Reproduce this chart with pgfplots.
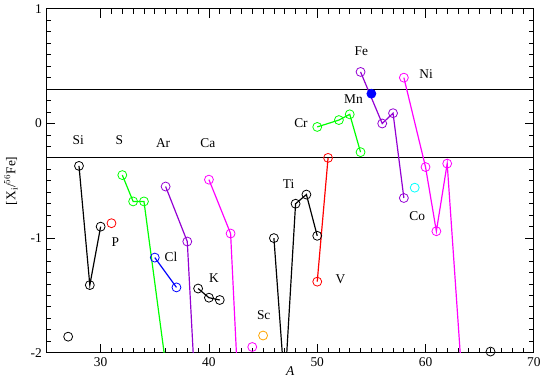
\documentclass[border=0pt]{standalone}
\usepackage{fontspec}
\setmainfont{Liberation Serif}
\usepackage{pgfplots}
\pgfplotsset{compat=1.18}
\usepackage{pgfplotstable}

\definecolor{grgreen}{RGB}{0,255,0}
\definecolor{grviolet}{RGB}{148,0,211}
\definecolor{grmagenta}{RGB}{255,0,255}
\definecolor{grorange}{RGB}{255,165,0}
\definecolor{grcyan}{RGB}{0,255,255}
\definecolor{grred}{RGB}{255,0,0}
\definecolor{grblue}{RGB}{0,0,255}

% isotope chains, A and [X_i/56Fe]
\pgfplotstableread{
A y
28 -0.37
29 -1.41
30 -0.90
}\si
\pgfplotstableread{
A y
32 -0.45
33 -0.68
34 -0.68
36 -2.10
}\sul
\pgfplotstableread{
A y
35 -1.17
37 -1.43
}\cl
\pgfplotstableread{
A y
36 -0.55
38 -1.03
40 -4.60
}\ar
\pgfplotstableread{
A y
40 -0.49
42 -0.96
43 -2.90
}\ca
\pgfplotstableread{
A y
39 -1.44
40 -1.52
41 -1.54
}\kk
\pgfplotstableread{
A y
46 -1.00
47 -2.30
48 -0.70
49 -0.62
50 -0.98
}\ti
\pgfplotstableread{
A y
50 -1.38
51 -0.30
}\vv
\pgfplotstableread{
A y
50 -0.03
52 0.03
53 0.08
54 -0.25
}\cr
\pgfplotstableread{
A y
54 0.45
56 0.00
57 0.09
58 -0.65
}\fe
\pgfplotstableread{
A y
58 0.40
60 -0.38
61 -0.94
62 -0.35
64 -3.10
}\ni

\newcommand{\chain}[2]{%
  \addplot[#1, line width=1.2pt, mark=none] table[x=A, y=y] {#2};
  \addplot[#1, only marks, mark=o, mark size=4.5pt, line width=0.8pt,
    restrict y to domain=-2.05:1.05] table[x=A, y=y] {#2};
}

\begin{document}
\fontsize{13.5}{16}\selectfont
\begin{tikzpicture}
\begin{axis}[
  width=489bp, height=345bp, scale only axis,
  xmin=25, xmax=70, ymin=-2, ymax=1,
  xtick={30,40,50,60,70}, ytick={-2,-1,0,1},
  minor x tick num=9, minor y tick num=9,
  tick align=inside, major tick length=9bp, minor tick length=5bp,
  tick style={black, line width=0.8pt},
  axis line style={line width=0.8pt},
  xlabel={\textit{A}}, ylabel={[X$_{\mathrm{i}}$/$^{56}$Fe]},
  xlabel style={yshift=9pt}, ylabel style={yshift=4pt},
  /pgf/number format/assume math mode=true,
  every tick label/.append style={font=\rmfamily\fontsize{13.5}{16}\selectfont},
  label style={font=\rmfamily\fontsize{13.5}{16}\selectfont},
  clip marker paths=false,
]
\addplot[black, line width=1.2pt, mark=none] coordinates {(25,0.3) (70,0.3)};
\addplot[black, line width=1.2pt, mark=none] coordinates {(25,-0.3) (70,-0.3)};

\chain{black}{\si}
\chain{grgreen}{\sul}
\chain{grblue}{\cl}
\chain{grviolet}{\ar}
\chain{grmagenta}{\ca}
\chain{black}{\kk}
\chain{black}{\ti}
\chain{grred}{\vv}
\chain{grgreen}{\cr}
\chain{grviolet}{\fe}
\chain{grmagenta}{\ni}

% single isotopes
\addplot[black, only marks, mark=o, mark size=4.5pt, line width=0.8pt] coordinates {(27,-1.86) (66,-1.99)};
\addplot[grred, only marks, mark=o, mark size=4.5pt, line width=0.8pt] coordinates {(31,-0.87)};
\addplot[grmagenta, only marks, mark=o, mark size=4.5pt, line width=0.8pt] coordinates {(44,-1.95)};
\addplot[grorange, only marks, mark=o, mark size=4.5pt, line width=0.8pt] coordinates {(45,-1.85)};
\addplot[grcyan, only marks, mark=o, mark size=4.5pt, line width=0.8pt] coordinates {(59,-0.56)};
\addplot[grblue, only marks, mark=*, mark size=4.5pt, line width=0.8pt] coordinates {(55,0.26)};

\node at (axis cs:27.94,-0.148) {Si};
\node at (axis cs:31.72,-0.148) {S};
\node at (axis cs:35.77,-0.174) {Ar};
\node at (axis cs:39.9,-0.174) {Ca};
\node at (axis cs:31.35,-1.035) {P};
\node at (axis cs:36.5,-1.165) {Cl};
\node at (axis cs:40.46,-1.35) {K};
\node at (axis cs:45.06,-1.67) {Sc};
\node at (axis cs:47.36,-0.53) {Ti};
\node at (axis cs:52.15,-1.36) {V};
\node at (axis cs:48.5,0.0) {Cr};
\node at (axis cs:53.34,0.217) {Mn};
\node at (axis cs:54.08,0.635) {Fe};
\node at (axis cs:60.06,0.435) {Ni};
\node at (axis cs:59.23,-0.81) {Co};
\end{axis}
\end{tikzpicture}
\end{document}
